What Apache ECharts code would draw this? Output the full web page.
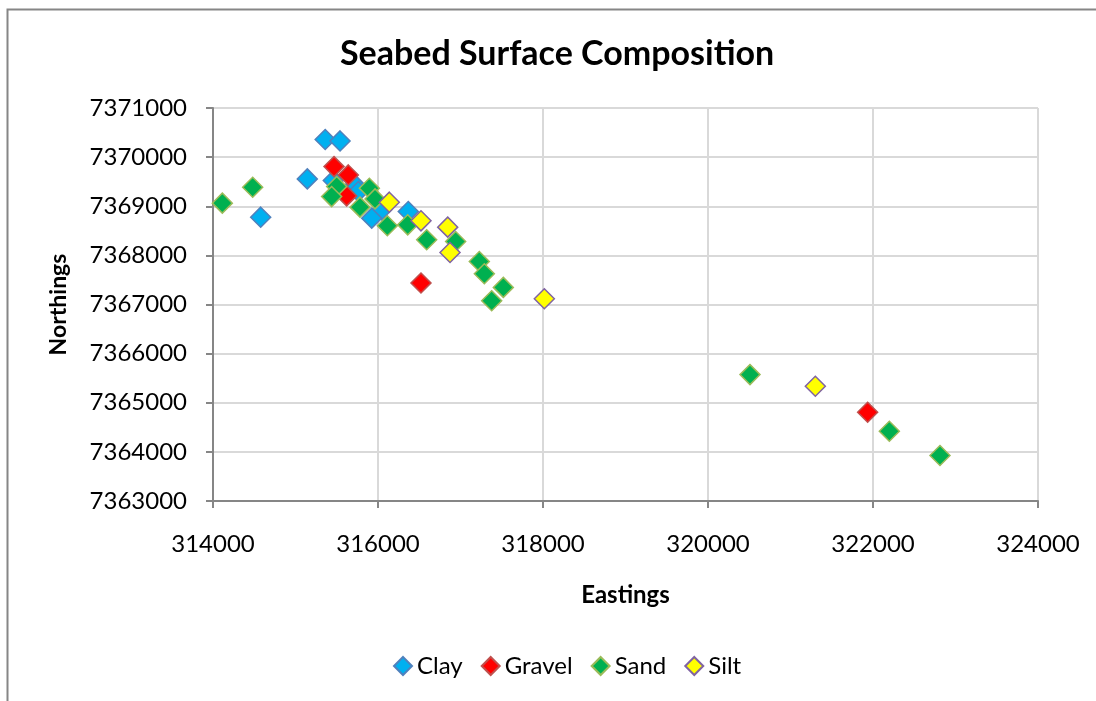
<!DOCTYPE html>
<html>
<head>
<meta charset="utf-8">
<script src="https://cdn.jsdelivr.net/npm/echarts@6/dist/echarts.min.js"></script>
<style>
  html, body { margin: 0; padding: 0; background: #fff; }
  #myEchart { width: 1096px; height: 701px; }
</style>
</head>
<body>
<div id="myEchart"></div>
<script>
var clay = [
    [315360, 7370360], [315540, 7370330], [315143, 7369557], [315458, 7369523],
    [315721, 7369435], [315762, 7369300], [316045, 7368927], [315924, 7368758],
    [316367, 7368892], [314578, 7368778]
];
var gravel = [
    [315467, 7369807], [315640, 7369638], [315620, 7369211], [316521, 7367437],
    [321935, 7364807]
];
var sand = [
    [314113, 7369063], [314481, 7369388], [315499, 7369401], [315438, 7369197],
    [315895, 7369367], [315964, 7369150], [315782, 7368982], [316113, 7368602],
    [316360, 7368622], [316590, 7368317], [316941, 7368283], [317228, 7367876],
    [317289, 7367626], [317519, 7367348], [317378, 7367077], [320509, 7365573],
    [322198, 7364421], [322812, 7363927]
];
var silt = [
    [316137, 7369083], [316521, 7368703], [316845, 7368575], [316873, 7368059],
    [318016, 7367118], [321301, 7365336]
];

var seriesNames = ['Clay', 'Gravel', 'Sand', 'Silt'];
var fills = ['#00b0f0', '#ff0000', '#00b050', '#ffff00'];
var borders = ['#4f81bd', '#c0504d', '#9bbb59', '#8064a2'];

var font = 'Lato, "Open Sans", sans-serif';
var myChart = echarts.init(document.getElementById('myEchart'));

var series = [clay, gravel, sand, silt].map(function(d, i) {
    return {
        name: seriesNames[i],
        type: 'scatter',
        symbol: 'diamond',
        symbolSize: 20,
        data: d,
        itemStyle: {
            color: fills[i],
            borderColor: borders[i],
            borderWidth: 1.5,
            opacity: 1
        }
    };
});

// plain numbers, no thousands separators
function plain(v) {
    return String(v);
}

myChart.setOption({
    animation: false,
    title: {
        text: 'Seabed Surface Composition',
        left: 335,
        top: 32,
        textStyle: { fontFamily: font, fontSize: 34, fontWeight: 'bold', color: '#000' }
    },
    legend: {
        top: 649,
        left: 388,
        itemWidth: 18,
        itemHeight: 18,
        itemGap: 18,
        textStyle: { fontFamily: font, fontSize: 24, color: '#000' },
        data: seriesNames.map(function(n) { return { name: n, icon: 'diamond' }; })
    },
    grid: {
        left: 213,
        right: 58,
        top: 108,
        bottom: 200
    },
    xAxis: {
        type: 'value',
        min: 314000,
        max: 324000,
        interval: 2000,
        name: 'Eastings',
        nameLocation: 'middle',
        nameGap: 82,
        nameTextStyle: { fontFamily: font, fontSize: 24, fontWeight: 'bold', color: '#000' },
        axisLine: { lineStyle: { color: '#868686', width: 2 } },
        axisTick: { show: true, length: 7, lineStyle: { color: '#868686', width: 2 } },
        axisLabel: { fontFamily: font, fontSize: 24, color: '#000', margin: 31, formatter: plain },
        splitLine: { show: true, lineStyle: { color: '#d9d9d9', width: 2 } }
    },
    yAxis: {
        type: 'value',
        min: 7363000,
        max: 7371000,
        interval: 1000,
        name: 'Northings',
        nameLocation: 'middle',
        nameGap: 143,
        nameTextStyle: { fontFamily: font, fontSize: 23, fontWeight: 'bold', color: '#000' },
        axisLine: { show: true, lineStyle: { color: '#868686', width: 2 } },
        axisTick: { show: true, length: 7, lineStyle: { color: '#868686', width: 2 } },
        axisLabel: { fontFamily: font, fontSize: 24, color: '#000', margin: 26, formatter: plain },
        splitLine: { show: true, lineStyle: { color: '#d9d9d9', width: 2 } }
    },
    graphic: [{
        type: 'rect',
        shape: { x: 7.5, y: 9.5, width: 1200, height: 800 },
        style: { fill: 'none', stroke: '#868686', lineWidth: 2 },
        silent: true
    }],
    series: series
});
</script>
</body>
</html>
